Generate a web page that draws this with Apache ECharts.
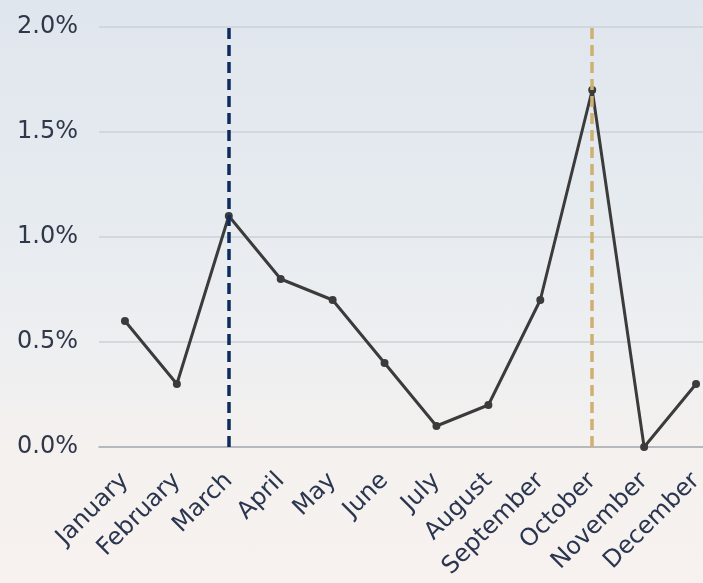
<!DOCTYPE html>
<html>
<head>
<meta charset="utf-8">
<script src="https://cdn.jsdelivr.net/npm/echarts@6/dist/echarts.min.js"></script>
<style>
  html, body { margin: 0; padding: 0; }
  #chart {
    width: 703px; height: 583px;
    background: linear-gradient(to bottom, #e0e6ed 0%, #e6ebf0 35%, #eeeff1 60%, #f5f1ee 80%, #f7f2ef 100%);
  }
</style>
</head>
<body>
<div id="chart"></div>
<script>
const months = ['January', 'February', 'March', 'April', 'May', 'June',
                'July', 'August', 'September', 'October', 'November', 'December'];
const rates = [0.6, 0.3, 1.1, 0.8, 0.7, 0.4, 0.1, 0.2, 0.7, 1.7, 0.0, 0.3];
const yTicks = { min: 0, max: 2.0, interval: 0.5 };
const highlightMonths = ['March', 'October'];
const highlightColors = ['#0d2c5e', '#cdb072'];

const labelFont = '"DejaVu Sans", "Open Sans", sans-serif';

const chart = echarts.init(document.getElementById('chart'), null, { renderer: 'canvas' });

chart.setOption({
  backgroundColor: 'transparent',
  animation: false,
  grid: { left: 99, top: 27, right: -19, height: 420, containLabel: false, outerBoundsMode: 'none' },
  xAxis: {
    type: 'category',
    data: months,
    boundaryGap: true,
    axisLine: { show: true, lineStyle: { color: '#a9adb3', width: 1.5 } },
    axisTick: { show: false },
    axisLabel: {
      rotate: 45,
      interval: 0,
      margin: 30,
      color: '#2a3550',
      fontFamily: labelFont,
      fontSize: 24
    }
  },
  yAxis: {
    type: 'value',
    min: yTicks.min,
    max: yTicks.max,
    interval: yTicks.interval,
    axisLine: { show: false },
    axisTick: { show: false },
    splitLine: { lineStyle: { color: '#cdd2d7', width: 1.5 } },
    axisLabel: {
      margin: 21,
      color: '#2f3749',
      fontFamily: labelFont,
      fontSize: 24,
      formatter: v => v.toFixed(1) + '%'
    }
  },
  series: [
    {
      type: 'line',
      data: rates,
      symbol: 'circle',
      symbolSize: 8,
      lineStyle: { color: '#3b3b3b', width: 3 },
      itemStyle: { color: '#3b3b3b' },
      z: 2
    },
    {
      type: 'line',
      data: [],
      z: 5,
      markLine: {
        silent: true,
        symbol: ['none', 'none'],
        label: { show: false },
        data: highlightMonths.map((m, i) => ({
          xAxis: m,
          lineStyle: { color: highlightColors[i], type: [11, 6], width: 3.5 }
        }))
      }
    }
  ]
});
</script>
</body>
</html>
